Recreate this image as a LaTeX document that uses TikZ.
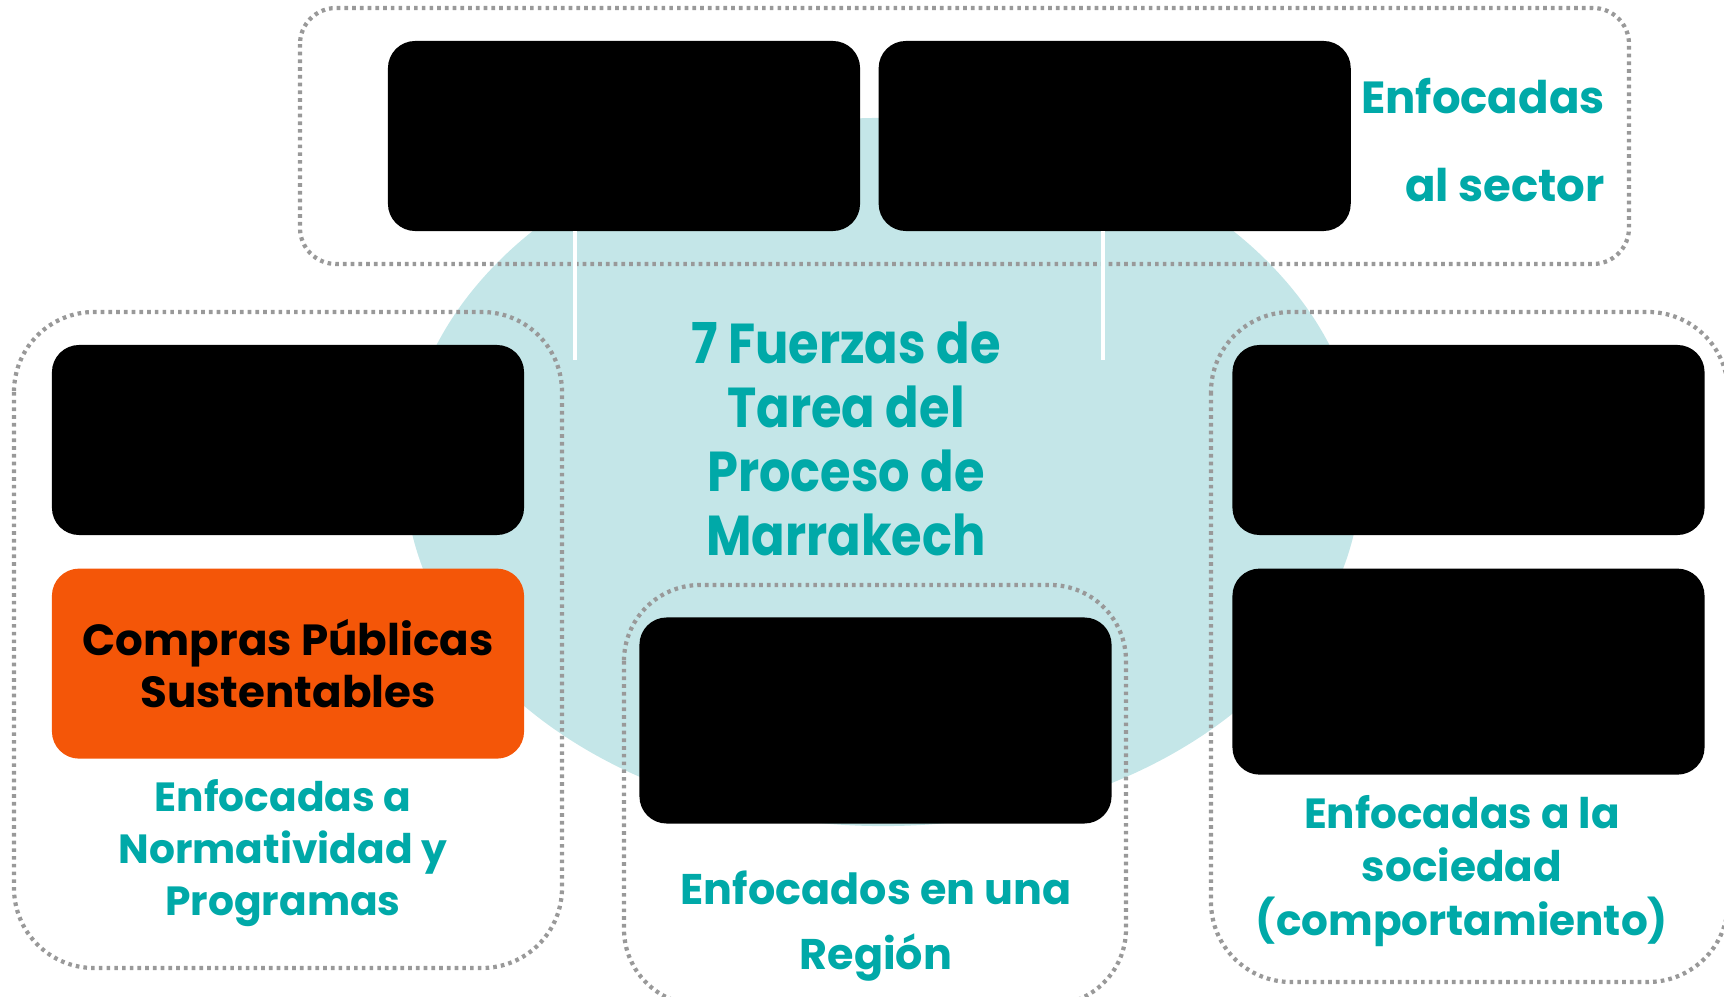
\documentclass[tikz,border=0pt]{standalone}
\usepackage{fontspec}
\setmainfont{Poppins}
\newfontfamily\titlefont{Poppins}[FakeStretch=0.88]
\usepackage{tikz}
\usetikzlibrary{positioning}
\definecolor{fuerza}{HTML}{00A9A8}
\definecolor{paleblue}{HTML}{C4E6E8}
\definecolor{compra}{HTML}{F45608}
\definecolor{dotgray}{HTML}{999999}
\tikzset{
	task/.style={fill=black, rounded corners=0.68cm, minimum width=11.8cm,
		minimum height=4.75cm, inner sep=0pt}, % the task force boxes
	tall/.style={minimum height=5.15cm},
	group/.style={draw=dotgray, line width=3pt, dash pattern=on 2.6pt off 2.9pt},
	focus/.style={text=fuerza, font=\bfseries, align=center, inner sep=0pt},
	link/.style={white, line width=2.2pt},
}
\begin{document}
\begin{tikzpicture}[x=0.025cm, y=-0.025cm]
      \useasboundingbox (0,0) rectangle (1724,997);
      \fill[paleblue] (883,472) ellipse [x radius=11.95cm, y radius=8.85cm];

      % groups
      \draw[group, rounded corners=0.9cm] (300,8) rectangle (1629,264);
      \draw[group, rounded corners=2cm] (14,312) rectangle (562,968);
      \draw[group, rounded corners=1.9cm] (624,585) rectangle (1126,1005);
      \draw[group, rounded corners=2cm] (1211,312) rectangle (1728,982);

      \node[task] (sector1) at (624,136) {};
      \node[task, right=0.45cm of sector1] (sector2) {};
      \node[task] (norma) at (288,440) {};
      \node[task, fill=compra, below=0.825cm of norma, font=\bfseries\fontsize{31}{37}\selectfont, align=center]
            (compras) {Compras Públicas\\Sustentables};
      \node[task, tall] (region) at (875.5,720.5) {};
      \node[task] (social1) at (1468.5,440) {};
      \node[task, tall, below=0.825cm of social1] (social2) {};

      \coordinate (c1) at (575,360);
      \coordinate (c2) at (1103,360);
      \draw[link] (c1 |- sector1.south) -- (c1);
      \draw[link] (c2 |- sector2.south) -- (c2);

      \node[focus, align=right, anchor=east, font=\bfseries\fontsize{32}{62.6}\selectfont]
            (sectorlbl) at (1605,140) {Enfocadas\\al sector};
      \node[focus, font=\titlefont\bfseries\fontsize{40}{45.5}\selectfont]
            (title) at (846,439) {7 Fuerzas de\\Tarea del\\Proceso de\\Marrakech};
      \node[focus, font=\bfseries\fontsize{29}{37}\selectfont]
            (normalbl) at (283,853) {Enfocadas a\\Normatividad y\\Programas};
      \node[focus, font=\bfseries\fontsize{30.5}{46}\selectfont]
            (regionlbl) at (876,926) {Enfocados en una\\Región};
      \node[focus, font=\bfseries\fontsize{30}{38}\selectfont]
            (sociallbl) at (1462,871) {Enfocadas a la\\sociedad\\(comportamiento)};
\end{tikzpicture}
\end{document}
